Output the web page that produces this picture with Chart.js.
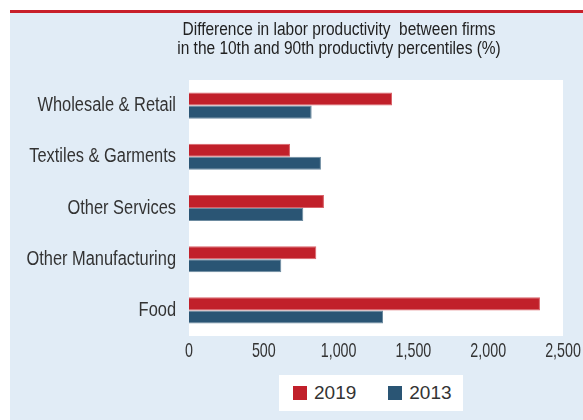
<!DOCTYPE html>
<html>
<head>
<meta charset="utf-8">
<script src="https://cdn.jsdelivr.net/npm/chart.js@4/dist/chart.umd.min.js"></script>
<style>
  html, body { margin: 0; padding: 0; background: #fff; overflow: hidden; }
  #wrap { position: relative; width: 583px; height: 420px; }
  #chart { display: block; }
  #legend {
    position: absolute; left: 279px; top: 375px; width: 170px; height: 36px;
    padding-left: 14px; background: #fff; display: flex; align-items: center;
    font-family: "Liberation Sans", Arial, sans-serif; font-size: 19px; color: #333;
  }
  #legend .item { display: flex; align-items: center; margin-right: 32px; }
  #legend .box { width: 14px; height: 14px; margin-right: 7px; display: inline-block; }
</style>
</head>
<body>
<div id="wrap">
  <canvas id="chart" width="583" height="420"></canvas>
  <div id="legend"></div>
</div>
<script>
const FONT = '"Liberation Sans", Arial, sans-serif';

const categories = ['Wholesale & Retail', 'Textiles & Garments', 'Other Services', 'Other Manufacturing', 'Food'];
const values2019 = [1357, 675, 902, 851, 2346];
const values2013 = [820, 882, 764, 617, 1297];
const xTicks = [0, 500, 1000, 1500, 2000, 2500];
const titleLines = ['Difference in labor productivity  between firms', 'in the 10th and 90th productivty percentiles (%)'];

const RED = '#c1202a';
const BLUE = '#2a5574';

// condensed text: the original uses a narrow face that is not installed
function narrowText(ctx, text, x, y, size, sx, align, color) {
  ctx.save();
  ctx.font = size + 'px ' + FONT;
  ctx.fillStyle = color;
  ctx.textAlign = align;
  ctx.textBaseline = 'middle';
  ctx.translate(x, y);
  ctx.scale(sx, 1);
  ctx.fillText(text, 0, 0);
  ctx.restore();
}

// panel, red rule, white plot area
const backdrop = {
  id: 'backdrop',
  beforeDraw(chart) {
    const { ctx, chartArea } = chart;
    ctx.save();
    ctx.fillStyle = '#fff';
    ctx.fillRect(0, 0, chart.width, chart.height);
    ctx.fillStyle = '#e1ecf6';
    ctx.fillRect(10, 13, chart.width - 10, chart.height - 13);
    ctx.fillStyle = '#c8202a';
    ctx.fillRect(10, 10, chart.width - 10, 3);
    ctx.fillStyle = '#fff';
    ctx.fillRect(chartArea.left, chartArea.top, chartArea.right - chartArea.left, chartArea.bottom - chartArea.top);
    ctx.restore();
  }
};

// title and axis labels, placed from the chart's scales
const labels = {
  id: 'labels',
  afterDraw(chart) {
    const { ctx, scales: { x, y }, chartArea } = chart;
    narrowText(ctx, titleLines[0], 339, 30, 18, 0.86, 'center', '#222');
    narrowText(ctx, titleLines[1], 339, 49, 18, 0.86, 'center', '#222');
    y.ticks.forEach((t, i) => {
      narrowText(ctx, y.getLabelForValue(t.value), chartArea.left - 13, y.getPixelForTick(i), 20, 0.82, 'right', '#333');
    });
    x.ticks.forEach(t => {
      narrowText(ctx, t.value.toLocaleString('en-US'), x.getPixelForValue(t.value), chartArea.bottom + 15, 21, 0.68, 'center', '#333');
    });
  }
};

const chart = new Chart(document.getElementById('chart'), {
  type: 'bar',
  data: {
    labels: categories,
    datasets: [
      { label: '2019', data: values2019, backgroundColor: RED, borderColor: '#d9636a', borderWidth: 1 },
      { label: '2013', data: values2013, backgroundColor: BLUE, borderColor: '#6d8ba0', borderWidth: 1 }
    ]
  },
  options: {
    indexAxis: 'y',
    responsive: false,
    animation: false,
    layout: { padding: { left: 0, right: 20, top: 80, bottom: 0 } },
    datasets: { bar: { categoryPercentage: 0.51, barPercentage: 1 } },
    plugins: { legend: { display: false }, tooltip: { enabled: false } },
    scales: {
      x: {
        min: 0, max: 2500,
        afterBuildTicks: (s) => { s.ticks = xTicks.map(v => ({ value: v })); },
        grid: { display: false },
        border: { display: false },
        ticks: { display: false },
        afterFit: (s) => { s.height = 84; }
      },
      y: {
        grid: { display: false },
        border: { display: false },
        ticks: { display: false },
        afterFit: (s) => { s.width = 189; }
      }
    }
  },
  plugins: [backdrop, labels]
});

// legend from the datasets
const legend = document.getElementById('legend');
chart.data.datasets.forEach(ds => {
  const item = document.createElement('span');
  item.className = 'item';
  const box = document.createElement('span');
  box.className = 'box';
  box.style.background = ds.backgroundColor;
  item.appendChild(box);
  item.appendChild(document.createTextNode(ds.label));
  legend.appendChild(item);
});
</script>
</body>
</html>
